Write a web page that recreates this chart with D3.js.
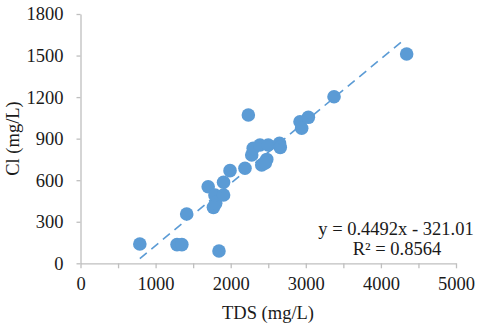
<!DOCTYPE html>
<html><head><meta charset="utf-8">
<script src="https://cdn.jsdelivr.net/npm/d3@7"></script>
<style>body{margin:0;background:#fff}svg{display:block}text{font-family:"Liberation Serif","Times New Roman",serif !important;}</style>
</head><body>
<script>
const tds = [790,1285,1350,1414,1844,1700,1770,1800,1790,1905,1905,1991,2190,2235,2280,2300,2390,2500,2650,2660,2413,2480,2460,2923,2945,3034,3376,4343];
const cl  = [139,135,135,356,89,553,404,433,493,493,585,669,686,1071,782,830,854,854,866,837,710,750,725,1022,975,1054,1203,1511];
const xTicks = [0,1000,2000,3000,4000,5000];
const xMinor = [500,1500,2500,3500,4500];
const yTicks = [0,300,600,900,1200,1500,1800];
const slope = 0.4492, intercept = -321.01;
const eqLabel = "y = 0.4492x - 321.01";
const r2Label = "R² = 0.8564";
const xTitle = "TDS (mg/L)", yTitle = "Cl (mg/L)";

const W=480,H=327;
const FS=18.5;
const svg=d3.select("body").append("svg").attr("width",W).attr("height",H);
const x=d3.scaleLinear().domain([0,5000]).range([80.5,456]);
const y=d3.scaleLinear().domain([0,1800]).range([263.3,14]);
const axisCol="#bfbfbf";
const txtCol="#1a1a1a";

// x axis
const gx=svg.append("g").attr("transform",`translate(0,${y(0)})`)
  .call(d3.axisBottom(x).tickValues(xTicks.concat(xMinor)).tickSize(5).tickSizeOuter(0).tickFormat(d=>xTicks.includes(d)?String(d):""));
gx.select(".domain").attr("stroke",axisCol).attr("stroke-width",1.3);
gx.selectAll(".tick line").attr("stroke",axisCol).attr("stroke-width",1.3);
gx.selectAll(".tick text").attr("font-size",FS).attr("fill",txtCol).attr("dy",null).attr("y",26.5);

// y axis
const gy=svg.append("g").attr("transform",`translate(${x(0)},0)`)
  .call(d3.axisLeft(y).tickValues(yTicks).tickSize(4).tickSizeOuter(0).tickFormat(d=>String(d)));
gy.select(".domain").attr("stroke",axisCol).attr("stroke-width",1.3);
gy.selectAll(".tick line").attr("stroke",axisCol).attr("stroke-width",1.3);
gy.selectAll(".tick text").attr("font-size",FS).attr("fill",txtCol).attr("x",-17);

// points
const data=tds.map((t,i)=>({x:t,y:cl[i]}));
svg.append("g").selectAll("circle").data(data).join("circle")
  .attr("cx",d=>x(d.x)).attr("cy",d=>y(d.y)).attr("r",6.8).attr("fill","#5b9bd5");

// trendline
const xmin=d3.min(tds), xmax=d3.max(tds)-30;
svg.append("line")
  .attr("x1",x(xmin)).attr("y1",y(slope*xmin+intercept))
  .attr("x2",x(xmax)).attr("y2",y(slope*xmax+intercept))
  .attr("stroke","#5b9bd5").attr("stroke-width",1.6).attr("stroke-dasharray","9,6");

// equation
svg.append("text").attr("x",396).attr("y",235).attr("text-anchor","middle")
  .attr("font-size",FS).attr("fill",txtCol).text(eqLabel);
svg.append("text").attr("x",397).attr("y",255).attr("text-anchor","middle")
  .attr("font-size",FS).attr("fill",txtCol).text(r2Label);

// titles
svg.append("text").attr("x",268).attr("y",319).attr("text-anchor","middle")
  .attr("font-size",FS).attr("fill",txtCol).text(xTitle);
svg.append("text").attr("transform",`translate(19,138.5) rotate(-90)`).attr("text-anchor","middle")
  .attr("font-size",FS).attr("fill",txtCol).text(yTitle);
</script>
</body></html>
